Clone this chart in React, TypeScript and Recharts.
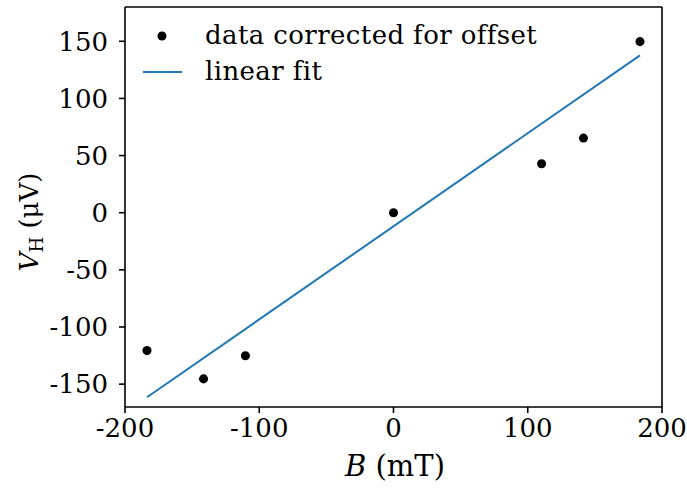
import React from 'react';
import { ComposedChart, Scatter, XAxis, YAxis, ReferenceLine } from 'recharts';

const fieldB = [-183.6, -141.5, -110.3, 0, 110.3, 141.5, 183.6];
const hallV = [-120.6, -145.4, -125.2, 0, 42.9, 65.3, 149.7];
const fitB = [-183.6, 183.6];
const fitV = [-161.5, 137.7];
const xTicks = [-200, -100, 0, 100, 200];
const yTicks = [-150, -100, -50, 0, 50, 100, 150];
const xDomain = [-200, 200];
const yDomain = [-170, 180];
const seriesNames = ['data corrected for offset', 'linear fit'];

const points = fieldB.map((b, i) => ({ x: b, y: hallV[i] }));
const fitLine = fitB.map((b, i) => ({ x: b, y: fitV[i] }));

const FONT = 'DejaVu Serif';
const FS = 26;
const tickStyle = { fontFamily: FONT, fontSize: FS, fill: '#000' };
const axisStroke = { stroke: '#000', strokeWidth: 1.6 };

export default function App() {
  return (
    <div style={{ position: 'absolute', left: 0, top: 0, width: 687, height: 490, background: '#fff', fontFamily: FONT }}>
      <ComposedChart width={687} height={490} margin={{ top: 7, right: 25, bottom: 0, left: 0 }}>
        <XAxis
          type="number"
          dataKey="x"
          domain={xDomain}
          ticks={xTicks}
          allowDataOverflow
          height={83}
          tick={tickStyle}
          tickSize={6}
          tickMargin={6}
          axisLine={axisStroke}
          tickLine={axisStroke}
        />
        <YAxis
          type="number"
          dataKey="y"
          domain={yDomain}
          ticks={yTicks}
          allowDataOverflow
          width={125}
          tick={tickStyle}
          tickSize={6}
          tickMargin={11}
          axisLine={axisStroke}
          tickLine={axisStroke}
        />
        <ReferenceLine y={yDomain[1]} stroke="#000" strokeWidth={1.6} />
        <ReferenceLine x={xDomain[1]} stroke="#000" strokeWidth={1.6} />
        <Scatter
          name={seriesNames[1]}
          data={fitLine}
          line={{ stroke: '#1f77b4', strokeWidth: 2 }}
          shape={() => <g />}
          isAnimationActive={false}
        />
        <Scatter
          name={seriesNames[0]}
          data={points}
          fill="#000"
          shape="circle"
          isAnimationActive={false}
        />
        <g>
          <circle cx={162} cy={36} r={4.5} fill="#000" />
          <text x={205} y={44} fontFamily={FONT} fontSize={FS} fill="#000" letterSpacing="0.4">
            {seriesNames[0]}
          </text>
          <line x1={143} y1={72} x2={182} y2={72} stroke="#1f77b4" strokeWidth={2} />
          <text x={205} y={80} fontFamily={FONT} fontSize={FS} fill="#000" letterSpacing="0.4">
            {seriesNames[1]}
          </text>
          <text x={395} y={476} textAnchor="middle" fontFamily={FONT} fontSize={29} fill="#000">
            <tspan fontStyle="italic">B</tspan> (mT)
          </text>
          <text
            x={0}
            y={0}
            transform="translate(38,222) rotate(-90)"
            textAnchor="middle"
            fontFamily={FONT}
            fontSize={26}
            fill="#000"
          >
            <tspan fontStyle="italic">V</tspan>
            <tspan fontSize={18} dy={5}>H</tspan>
            <tspan dy={-5}> (μV)</tspan>
          </text>
        </g>
      </ComposedChart>
    </div>
  );
}
